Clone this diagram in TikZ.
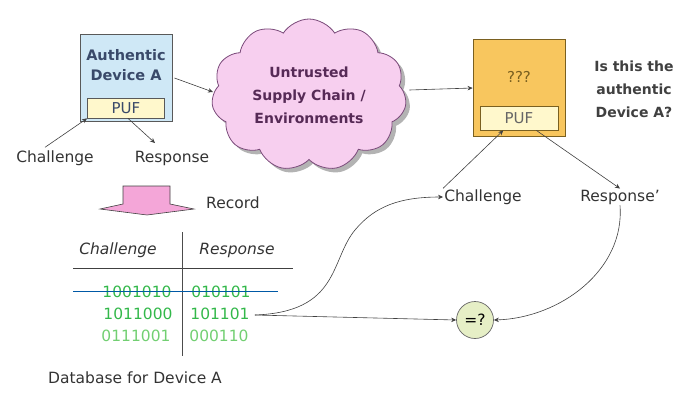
\documentclass[tikz,border=0pt]{standalone}
\usepackage{fontspec}
\setsansfont{DejaVu Sans}
\usepackage{tikz}
\usetikzlibrary{shapes.geometric, shapes.symbols, arrows.meta, positioning, calc, shadows}

\definecolor{devblue}{HTML}{CFE8F6}
\definecolor{devtext}{HTML}{3A4A6A}
\definecolor{pufyellow}{HTML}{FFF8CC}
\definecolor{cloudpink}{HTML}{F7CFEF}
\definecolor{cloudedge}{HTML}{7A4A7A}
\definecolor{cloudtext}{HTML}{562A56}
\definecolor{qorange}{HTML}{F8C65E}
\definecolor{qedge}{HTML}{7A6020}
\definecolor{bitgreen}{HTML}{33B84A}
\definecolor{bitlight}{HTML}{72CF72}
\definecolor{eqfill}{HTML}{E6EFC6}
\definecolor{recpink}{HTML}{F4A6D8}

\begin{document}
\begin{tikzpicture}[
    x=1pt, y=-1pt,
    font=\sffamily\fontsize{15.5}{19}\selectfont,
    >={Stealth[length=5pt, width=4.5pt]},
    device/.style={rectangle, draw=black!65, line width=0.9pt, minimum width=92pt, minimum height=87pt},
    puf/.style={rectangle, draw=black!65, line width=0.8pt, fill=pufyellow, minimum width=77pt, minimum height=20pt, inner sep=0pt},
    lbl/.style={text=black!80, inner sep=1pt},
    bits/.style={text=bitgreen, inner sep=1pt},
    hdr/.style={font=\sffamily\fontsize{15.5}{19}\selectfont\itshape, text=black!80, inner sep=1pt},
    line/.style={draw, ->, black!75, line width=0.6pt}
]
\useasboundingbox (0,0) rectangle (680,392);

% Nodes
\node[device, fill=devblue] (devA) at (126,78) {};
\node[text=devtext, font=\sffamily\fontsize{14.5}{20}\selectfont\bfseries, align=center, inner sep=0pt] (devAtxt) at (126,65) {Authentic\\Device A};
\node[puf, text=devtext, font=\sffamily\fontsize{15}{18}\selectfont] (pufA) at (126,108) {PUF};

\node[lbl] (chalA) at (55,158) {Challenge};
\node[lbl] (respA) at (172,158) {Response};

\node[cloud, cloud puffs=11, cloud puff arc=115, aspect=1.3, draw=cloudedge, line width=0.8pt, fill=cloudpink,
      minimum width=195pt, minimum height=152pt, drop shadow={opacity=0.6, shadow xshift=4pt, shadow yshift=-4pt},
      text=cloudtext, font=\sffamily\fontsize{14}{23}\selectfont\bfseries, align=center] (cloud) at (309,95)
      {Untrusted\\Supply Chain /\\Environments};

\node[device, fill=qorange, draw=qedge, minimum height=97pt] (devQ) at (519,88) {};
\node[text=qedge, font=\sffamily\fontsize{15}{18}\selectfont, inner sep=0pt] (qmark) at (519,77) {???};
\node[puf, draw=qedge, text=black!60, minimum width=78pt, minimum height=24pt, font=\sffamily\fontsize{15}{18}\selectfont] (pufQ) at (519,118) {PUF};

\node[font=\sffamily\fontsize{14}{23}\selectfont\bfseries, text=black!75, align=center, inner sep=0pt] (ask) at (634,89)
      {Is this the\\authentic\\Device A?};

\node[lbl] (chalQ) at (483,197) {Challenge};
\node[lbl] (respQ) at (620,197) {Response'};

\node[circle, draw=black!60, line width=0.7pt, fill=eqfill, minimum size=37pt, inner sep=0pt] (eq) at (475,320) {=?};

% Record arrow
\draw[black!75, line width=0.6pt, fill=recpink] (123,186) -- (170,186) -- (170,204) -- (194,209) -- (147,215)
      -- (100,209) -- (123,204) -- cycle;
\node[lbl] (rec) at (233,203) {Record};

% Database table
\node[hdr] (hchal) at (118,250) {Challenge};
\node[hdr] (hresp) at (237,250) {Response};
\draw[black!75, line width=0.7pt] (73,268) -- (293,268);
\draw[black!70, line width=0.7pt] (182,232) -- (182,356);

\node[bits] (c1) at (137,292) {1001010};
\node[bits] (r1) at (221,292) {010101};
\node[bits] (c2) at (138,314) {1011000};
\node[bits] (r2) at (220,314) {101101};
\node[bits, text=bitlight] (c3) at (136,336) {0111001};
\node[bits, text=bitlight] (r3) at (219,336) {000110};
\draw[teal!70!blue, line width=0.9pt] (73,291) -- (278,291);

\node[lbl] (db) at (135,378) {Database for Device A};

% Edges
\draw[line] (devA.east) ++(2,0) -- (213,92);
\draw[line] (chalA.north) ++(-10,-2) -- (pufA.south west);
\draw[line] (pufA.south) ++(2,0) -- (155,143);
\draw[line] (cloud.east) ++(4,-5) -- (devQ.west);
\draw[line] (chalQ.north west) -- ($(pufQ.south west)!0.3!(pufQ.south east)$);
\draw[line] ($(pufQ.south west)!0.72!(pufQ.south east)$) -- (respQ.north);

% Compare edges
\draw[line] (r2.east) ++(4,1) -- (eq.west);
\draw[line] (r2.east) ++(4,1) .. controls (340,312) and (330,260) .. (355,230)
      .. controls (375,206) and (400,197) .. (chalQ.west);
\draw[line] (respQ.south) .. controls (625,270) and (560,318) .. (eq.east);

\end{tikzpicture}
\end{document}
